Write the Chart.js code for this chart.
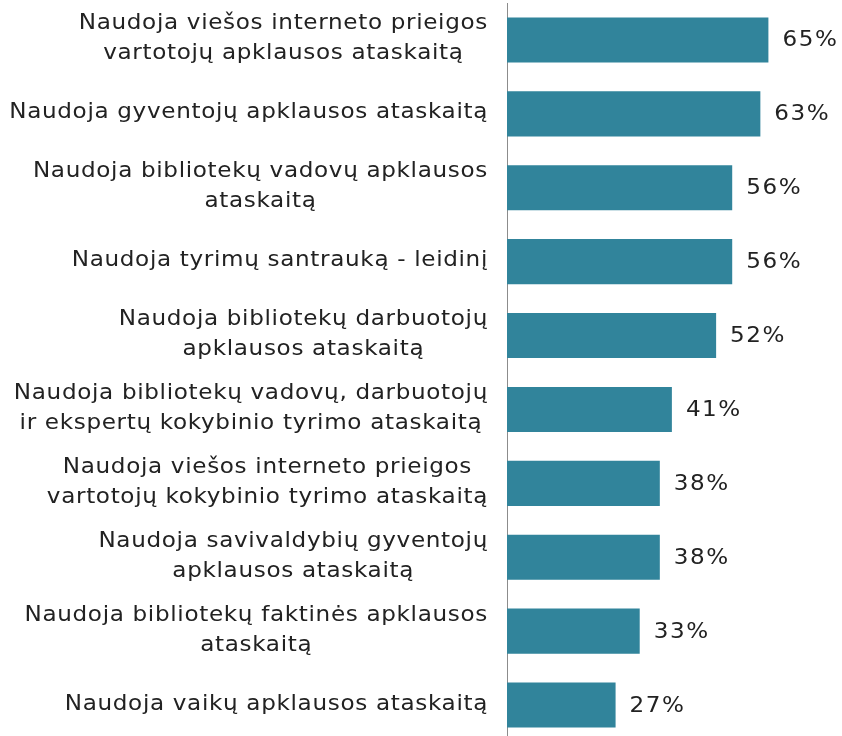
<!DOCTYPE html>
<html>
<head>
<meta charset="utf-8">
<script src="https://cdn.jsdelivr.net/npm/chart.js@4.4.0/dist/chart.umd.min.js"></script>
<style>
  html, body { margin: 0; padding: 0; background: #fff; overflow: hidden; }
  #wrap { width: 842px; height: 742px; }
</style>
</head>
<body>
<div id="wrap"><canvas id="usageChart"></canvas></div>
<script>
// categories (each entry = lines of the label)
const categories = [
  ["Naudoja viešos interneto prieigos", "vartotojų apklausos ataskaitą"],
  ["Naudoja gyventojų apklausos ataskaitą"],
  ["Naudoja bibliotekų vadovų apklausos", "ataskaitą"],
  ["Naudoja tyrimų santrauką - leidinį"],
  ["Naudoja bibliotekų darbuotojų", "apklausos ataskaitą"],
  ["Naudoja bibliotekų vadovų, darbuotojų", "ir ekspertų kokybinio tyrimo ataskaitą"],
  ["Naudoja viešos interneto prieigos", "vartotojų kokybinio tyrimo ataskaitą"],
  ["Naudoja savivaldybių gyventojų", "apklausos ataskaitą"],
  ["Naudoja bibliotekų faktinės apklausos", "ataskaitą"],
  ["Naudoja vaikų apklausos ataskaitą"]
];
const shares = [65, 63, 56, 56, 52, 41, 38, 38, 33, 27];

const FONT = '21px "DejaVu Sans", Verdana, sans-serif';
const TEXT = "#222";
const STRETCH = 1.1; // horizontal widening of the label text

// draws text with its left edge at x, stretched horizontally
function wideText(ctx, str, x, y) {
  ctx.save();
  ctx.translate(x, y);
  ctx.scale(STRETCH, 1);
  ctx.fillText(str, 0, 0);
  ctx.restore();
}

// category labels: block right-aligned to the axis, lines centred inside the block
const catLabels = {
  id: "catLabels",
  afterDraw(chart) {
    const ctx = chart.ctx;
    const y = chart.scales.y;
    const right = chart.chartArea.left - 19;
    const lh = 30;
    ctx.save();
    ctx.font = FONT;
    ctx.letterSpacing = "0.6px";
    ctx.fillStyle = TEXT;
    ctx.textAlign = "left";
    ctx.textBaseline = "middle";
    categories.forEach((lines, i) => {
      const cy = y.getPixelForValue(i) - 1;
      const widths = lines.map(l => ctx.measureText(l).width * STRETCH);
      const w = Math.max(...widths);
      const top = cy - (lines.length - 1) * lh / 2;
      lines.forEach((l, j) => wideText(ctx, l, right - w + (w - widths[j]) / 2, top + j * lh));
    });
    ctx.restore();
  }
};

// value labels after each bar
const valueLabels = {
  id: "valueLabels",
  afterDatasetsDraw(chart) {
    const ctx = chart.ctx;
    const meta = chart.getDatasetMeta(0);
    ctx.save();
    ctx.font = FONT;
    ctx.letterSpacing = "1.4px";
    ctx.fillStyle = TEXT;
    ctx.textAlign = "left";
    ctx.textBaseline = "middle";
    meta.data.forEach((bar, i) => {
      wideText(ctx, shares[i] + "%", bar.x + 14, bar.y + 1);
    });
    ctx.restore();
  }
};

new Chart(document.getElementById("usageChart"), {
  type: "bar",
  data: {
    labels: categories.map(c => c.join(" ")),
    datasets: [{
      data: shares,
      backgroundColor: "#31849B",
      borderWidth: 0,
      categoryPercentage: 1,
      barPercentage: 0.61
    }]
  },
  options: {
    indexAxis: "y",
    responsive: true,
    maintainAspectRatio: false,
    animation: false,
    layout: { padding: { top: 3, left: 0, right: 0, bottom: 0 } },
    plugins: { legend: { display: false }, tooltip: { enabled: false } },
    scales: {
      x: { display: false, min: 0, max: 83.3 },
      y: {
        grid: { display: false },
        border: { color: "#8c8c8c", width: 1 },
        ticks: { display: false },
        afterFit(scale) { scale.width = 507; }
      }
    }
  },
  plugins: [catLabels, valueLabels]
});
</script>
</body>
</html>
